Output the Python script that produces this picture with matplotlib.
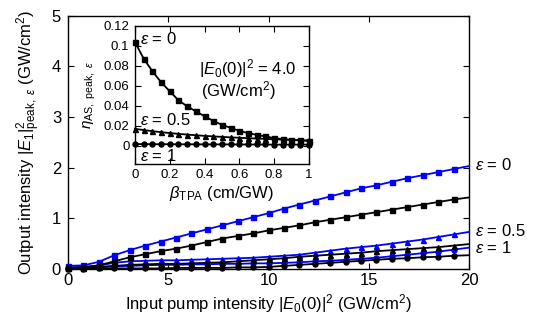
import numpy as np
import matplotlib
matplotlib.use("Agg")
from matplotlib import pyplot as plt

plt.rcParams['font.family'] = ['Liberation Sans', 'DejaVu Sans']
plt.rcParams['mathtext.fontset'] = 'custom'
plt.rcParams['mathtext.rm'] = 'Liberation Sans'
plt.rcParams['mathtext.it'] = 'Liberation Sans:italic'
plt.rcParams['mathtext.bf'] = 'Liberation Sans:bold'

# main plot: output intensity vs input pump intensity
pump = [0, 0.769, 1.538, 2.308, 3.077, 3.846, 4.615, 5.385, 6.154, 6.923, 7.692,
        8.462, 9.231, 10, 10.769, 11.538, 12.308, 13.077, 13.846, 14.615, 15.385,
        16.154, 16.923, 17.692, 18.462, 19.231, 20]

blue_eps0 = [0.06, 0.07, 0.14, 0.27, 0.37, 0.46, 0.54, 0.62, 0.70, 0.78, 0.86,
             0.94, 1.02, 1.10, 1.19, 1.27, 1.35, 1.43, 1.51, 1.59, 1.65,
             1.72, 1.79, 1.85, 1.91, 1.97, 2.03]
black_eps0 = [0.02, 0.03, 0.07, 0.15, 0.23, 0.29, 0.35, 0.40, 0.46, 0.53, 0.60,
              0.65, 0.70, 0.76, 0.81, 0.86, 0.92, 0.97, 1.02, 1.07, 1.12,
              1.17, 1.22, 1.27, 1.32, 1.37, 1.41]
blue_eps05 = [0.03, 0.04, 0.07, 0.12, 0.15, 0.16, 0.17, 0.17, 0.18, 0.19, 0.20,
              0.21, 0.22, 0.24, 0.26, 0.28, 0.32, 0.36, 0.40, 0.43, 0.46,
              0.50, 0.54, 0.58, 0.63, 0.68, 0.73]
black_eps05 = [0.01, 0.02, 0.04, 0.06, 0.08, 0.09, 0.10, 0.10, 0.11, 0.12, 0.13,
               0.15, 0.17, 0.19, 0.21, 0.24, 0.26, 0.28, 0.30, 0.32, 0.35,
               0.37, 0.39, 0.41, 0.43, 0.46, 0.49]
blue_eps1 = [0.02, 0.02, 0.03, 0.05, 0.06, 0.07, 0.08, 0.08, 0.09, 0.09, 0.10,
             0.10, 0.11, 0.11, 0.12, 0.13, 0.15, 0.16, 0.18, 0.20, 0.22,
             0.25, 0.28, 0.31, 0.34, 0.38, 0.42]
black_eps1 = [0.0, 0.0, 0.01, 0.01, 0.01, 0.01, 0.01, 0.02, 0.02, 0.02, 0.02,
              0.03, 0.03, 0.04, 0.06, 0.08, 0.10, 0.12, 0.14, 0.16, 0.18,
              0.20, 0.21, 0.23, 0.24, 0.26, 0.27]

# inset: efficiency vs beta_TPA
beta = [0, 0.05, 0.1, 0.15, 0.2, 0.25, 0.3, 0.35, 0.4, 0.45, 0.5,
        0.55, 0.6, 0.65, 0.7, 0.75, 0.8, 0.85, 0.9, 0.95, 1.0]
eta_eps0 = [0.1035, 0.087, 0.0745, 0.0635, 0.0545, 0.0455, 0.0395, 0.0345, 0.0295, 0.025, 0.021,
            0.018, 0.015, 0.0128, 0.011, 0.0094, 0.0078, 0.0068, 0.006, 0.0054, 0.005]
eta_eps05 = [0.017, 0.0158, 0.0147, 0.0137, 0.0128, 0.012, 0.0113, 0.0106, 0.01, 0.0095, 0.009,
             0.0085, 0.0081, 0.0077, 0.0073, 0.007, 0.0066, 0.0063, 0.006, 0.0057, 0.0054]
eta_eps1 = [0.0018, 0.0018, 0.0017, 0.0017, 0.0017, 0.0016, 0.0016, 0.0016, 0.0015, 0.0015, 0.0015,
            0.0015, 0.0014, 0.0014, 0.0014, 0.0014, 0.0013, 0.0013, 0.0013, 0.0013, 0.0013]

fig = plt.figure(figsize=(5.4, 3.24), dpi=100)
ax = fig.add_axes([0.126, 0.170, 0.7425, 0.782])

ms = 3.6
lw = 1.3
series = [
    (blue_eps0, 'blue', 's'),
    (blue_eps05, 'blue', '^'),
    (blue_eps1, 'blue', 'o'),
    (black_eps0, 'black', 's'),
    (black_eps05, 'black', '^'),
    (black_eps1, 'black', 'o'),
]
for ys, c, m in series:
    ax.plot(pump, ys, color=c, lw=lw, marker=m, ms=ms, markevery=slice(0, -1),
            clip_on=False, zorder=3)

ax.set_xlim(0, 20)
ax.set_ylim(0, 5)
ax.set_xticks([0, 5, 10, 15, 20])
ax.set_yticks([0, 1, 2, 3, 4, 5])
ax.tick_params(direction='in', top=True, right=True, length=4, width=0.8,
               labelsize=12)
ax.tick_params(axis='x', pad=3)
ax.tick_params(axis='y', pad=5)
for s in ax.spines.values():
    s.set_linewidth(1.0)
ax.set_xlabel(r'Input pump intensity $|E_0(0)|^2$ (GW/cm$^2$)', fontsize=12, labelpad=3)
ax.set_ylabel(r'Output intensity $|E_1|^2_{\mathrm{peak},\ \varepsilon}$ (GW/cm$^2$)',
              fontsize=12, labelpad=6)

ax.text(20.3, 2.05, r'$\varepsilon$ = 0', fontsize=12, va='center', ha='left', clip_on=False)
ax.text(20.3, 0.74, r'$\varepsilon$ = 0.5', fontsize=12, va='center', ha='left', clip_on=False)
ax.text(20.3, 0.41, r'$\varepsilon$ = 1', fontsize=12, va='center', ha='left', clip_on=False)

# inset
ins = fig.add_axes([0.25, 0.494, 0.322, 0.427])
for ys, m in [(eta_eps0, 's'), (eta_eps05, '^'), (eta_eps1, 'o')]:
    ins.plot(beta, ys, color='black', lw=lw, marker=m, ms=ms, clip_on=False, zorder=3)
ins.set_xlim(0, 1)
ins.set_ylim(-0.018, 0.12)
ins.set_xticks([0, 0.2, 0.4, 0.6, 0.8, 1.0])
ins.set_xticklabels(['0', '0.2', '0.4', '0.6', '0.8', '1'])
ins.set_yticks([0, 0.02, 0.04, 0.06, 0.08, 0.1, 0.12])
ins.set_yticklabels(['0', '0.02', '0.04', '0.06', '0.08', '0.1', '0.12'])
ins.tick_params(direction='in', top=True, right=True, length=4, width=0.8,
                labelsize=9.5, pad=4)
for s in ins.spines.values():
    s.set_linewidth(1.0)
ins.set_xlabel(r'$\beta_{\mathrm{TPA}}$ (cm/GW)', fontsize=12, labelpad=2)
ins.set_ylabel(r'$\eta_{\mathrm{AS,\ peak,}\ \varepsilon}$', fontsize=11, labelpad=4)

ins.text(0.03, 0.107, r'$\varepsilon$ = 0', fontsize=12, va='center', ha='left')
ins.text(0.03, 0.026, r'$\varepsilon$ = 0.5', fontsize=12, va='center', ha='left')
ins.text(0.03, -0.0105, r'$\varepsilon$ = 1', fontsize=12, va='center', ha='left')
ins.text(0.65, 0.077, r'$|E_0(0)|^2$ = 4.0', fontsize=12, va='center', ha='center')
ins.text(0.595, 0.055, r'(GW/cm$^2$)', fontsize=12, va='center', ha='center')

fig.savefig('out.png', dpi=100)
